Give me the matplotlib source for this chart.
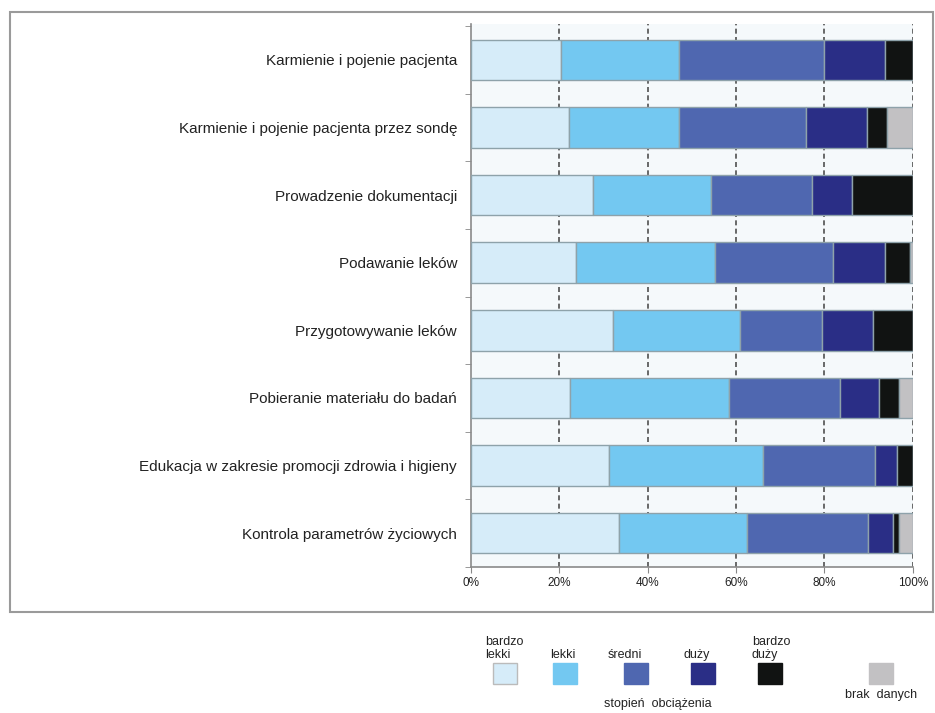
import numpy as np
import matplotlib
matplotlib.use("Agg")
import matplotlib.pyplot as plt
from matplotlib.patches import Rectangle

plt.rcParams['font.family'] = ['Liberation Sans', 'DejaVu Sans']

# data (% of answers)
categories = [
    "Karmienie i pojenie pacjenta",
    "Karmienie i pojenie pacjenta przez sondę",
    "Prowadzenie dokumentacji",
    "Podawanie leków",
    "Przygotowywanie leków",
    "Pobieranie materiału do badań",
    "Edukacja w zakresie promocji zdrowia i higieny",
    "Kontrola parametrów życiowych",
]
bardzo_lekki = [20.4, 22.2, 27.7, 23.7, 32.1, 22.4, 31.3, 33.5]
lekki        = [26.7, 24.9, 26.6, 31.5, 28.8, 35.9, 34.7, 29.0]
sredni       = [32.8, 28.7, 23.0, 26.8, 18.5, 25.2, 25.5, 27.3]
duzy         = [13.8, 13.9,  8.9, 11.7, 11.7,  8.9,  5.0,  5.8]
bardzo_duzy  = [ 6.3,  4.5, 13.8,  5.8,  8.9,  4.5,  3.5,  1.4]
brak_danych  = [ 0.0,  5.8,  0.0,  0.5,  0.0,  3.1,  0.0,  3.0]

series = [bardzo_lekki, lekki, sredni, duzy, bardzo_duzy, brak_danych]
series_labels = ["bardzo\nlekki", "lekki", "średni", "duży", "bardzo\nduży", "brak  danych"]
colors = ["#d6ecf9", "#73c8f1", "#4f67b0", "#2a2e86", "#111312", "#c2c1c3"]
xticks = [0, 20, 40, 60, 80, 100]
xtick_labels = ["0%", "20%", "40%", "60%", "80%", "100%"]

W, H = 935, 713
fig = plt.figure(figsize=(W / 100, H / 100), dpi=100)

# outer frame
fig.patches.append(Rectangle((10 / W, 1 - 612 / H), 923 / W, 600 / H,
                             transform=fig.transFigure, fill=False,
                             edgecolor="#9a9a9a", lw=1.5))

ax = fig.add_axes([471 / W, 1 - 567 / H, 441.7 / W, 543 / H])
ax.set_facecolor("#f5f9fb")

y = np.arange(len(categories))
left = np.zeros(len(categories))
for vals, col in zip(series, colors):
    vals = np.array(vals)
    ax.barh(y, vals, left=left, height=0.6, color=col,
            edgecolor="#8ea2aa", linewidth=1, zorder=3)
    left += vals

ax.set_xlim(0, 100)
ax.set_ylim(7.48, -0.53)

for xv in xticks[1:]:
    ax.axvline(xv, color="#505050", lw=1.2, ls=(0, (3, 2)), zorder=1)

ax.set_xticks(xticks)
ax.set_xticklabels(xtick_labels, fontsize=8.5, color="#222222")
ax.set_yticks(y)
ax.set_yticklabels(categories, fontsize=11, color="#222222")
ax.set_yticks(np.arange(-0.5, len(categories), 1), minor=True)
ax.tick_params(axis="y", which="major", length=0, pad=10)
ax.tick_params(axis="y", which="minor", length=4, color="#888888")
ax.tick_params(axis="x", length=4, color="#888888", pad=3)

for s in ["top", "right"]:
    ax.spines[s].set_visible(False)
for s in ["left", "bottom"]:
    ax.spines[s].set_color("#8a8a8a")
    ax.spines[s].set_linewidth(1.2)

# custom legend
sq_x = [505, 565, 636, 703, 770, 881]
lab_x = [485, 550, 608, 683, 752]
for i, (lab, col) in enumerate(zip(series_labels, colors)):
    cx = sq_x[i]
    fig.patches.append(Rectangle(((cx - 12) / W, 1 - 684 / H), 24 / W, 21 / H,
                                 transform=fig.transFigure, facecolor=col,
                                 edgecolor="#bbbbbb" if i == 0 else col, lw=1))
    if i < 5:
        fig.text(lab_x[i] / W, 1 - 661 / H, lab, fontsize=9, color="#222222",
                 ha="left", va="bottom", linespacing=1.15)
    else:
        fig.text(cx / W, 1 - 689 / H, lab, fontsize=9, color="#222222",
                 ha="center", va="top")
fig.text(658 / W, 1 - 698 / H, "stopień  obciążenia", fontsize=9,
         color="#222222", ha="center", va="top")

fig.savefig("out.png", dpi=100)
